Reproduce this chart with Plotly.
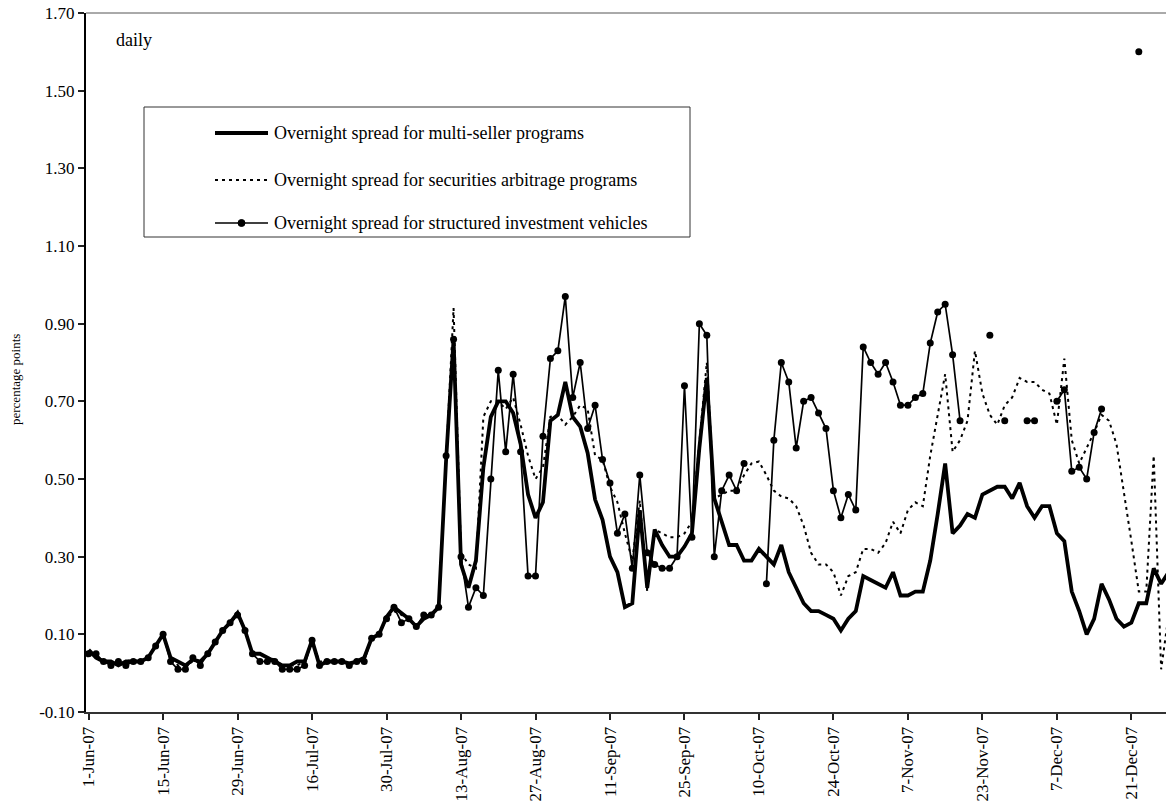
import pandas as pd
import plotly.graph_objects as go

# Business days, June-December 2007 (US market holidays removed)
HOLIDAYS = ["2007-07-04", "2007-09-03", "2007-10-08", "2007-11-12", "2007-11-22", "2007-12-25"]
days = [d for d in pd.bdate_range("2007-06-01", "2007-12-31") if d.strftime("%Y-%m-%d") not in HOLIDAYS]
dates = [f"{d.day}-{d.strftime('%b-%y')}" for d in days]

# Overnight spreads, percentage points
multi_seller = [
    0.06, 0.04, 0.03, 0.03, 0.02, 0.03, 0.03, 0.03, 0.04, 0.07, 0.10,
    0.04, 0.03, 0.02, 0.035, 0.03, 0.05, 0.08, 0.11, 0.13, 0.155,
    0.11, 0.05, 0.05, 0.04, 0.03, 0.02, 0.02, 0.03, 0.03, 0.085,
    0.02, 0.03, 0.03, 0.03, 0.025, 0.03, 0.04, 0.09, 0.10, 0.145,
    0.17, 0.155, 0.14, 0.12, 0.14, 0.15, 0.17, 0.55, 0.86, 0.28,
    0.22, 0.29, 0.53, 0.66, 0.70, 0.70, 0.67, 0.59, 0.46, 0.40,
    0.44, 0.65, 0.665, 0.75, 0.66, 0.635, 0.567, 0.447, 0.395, 0.30,
    0.26, 0.17, 0.18, 0.42, 0.22, 0.37, 0.33, 0.30, 0.30, 0.326,
    0.36, 0.58, 0.76, 0.45, 0.39, 0.33, 0.33, 0.29, 0.29, 0.32,
    0.30, 0.28, 0.33, 0.26, 0.22, 0.18, 0.16, 0.16, 0.15, 0.14,
    0.11, 0.14, 0.16, 0.25, 0.24, 0.23, 0.22, 0.26, 0.20, 0.20,
    0.21, 0.21, 0.29, 0.41, 0.54, 0.36, 0.38, 0.41, 0.40, 0.46,
    0.47, 0.48, 0.48, 0.45, 0.49, 0.43, 0.40, 0.43, 0.43, 0.36,
    0.34, 0.21, 0.16, 0.10, 0.14, 0.23, 0.19, 0.14, 0.12, 0.13,
    0.18, 0.18, 0.27, 0.23, 0.26,
]

sec_arbitrage = [
    0.05, 0.04, 0.03, 0.03, 0.02, 0.03, 0.035, 0.03, 0.04, 0.07, 0.10,
    0.04, 0.02, 0.02, 0.03, 0.03, 0.05, 0.08, 0.11, 0.13, 0.15,
    0.11, 0.05, 0.05, 0.04, 0.035, 0.02, 0.02, 0.02, 0.03, 0.08,
    0.03, 0.03, 0.03, 0.03, 0.02, 0.03, 0.04, 0.09, 0.10, 0.14,
    0.16, 0.15, 0.14, 0.12, 0.14, 0.15, 0.17, 0.55, 0.94, 0.31,
    0.28, 0.27, 0.66, 0.70, 0.70, 0.68, 0.71, 0.64, 0.56, 0.50,
    0.53, 0.66, 0.665, 0.64, 0.66, 0.69, 0.68, 0.56, 0.55, 0.48,
    0.44, 0.36, 0.29, 0.445, 0.21, 0.37, 0.36, 0.35, 0.35, 0.36,
    0.39, 0.60, 0.80, 0.45, 0.46, 0.47, 0.47, 0.51, 0.54, 0.545,
    0.51, 0.47, 0.455, 0.45, 0.43, 0.38, 0.31, 0.28, 0.28, 0.26,
    0.20, 0.25, 0.26, 0.32, 0.32, 0.31, 0.335, 0.39, 0.36, 0.42,
    0.44, 0.43, 0.56, 0.67, 0.77, 0.57, 0.60, 0.65, 0.83, 0.72,
    0.665, 0.64, 0.69, 0.71, 0.76, 0.75, 0.75, 0.73, 0.72, 0.64,
    0.81, 0.60, 0.54, 0.58, 0.62, 0.665, 0.65, 0.59, 0.47, 0.34,
    0.21, 0.21, 0.56, 0.01, 0.15,
]

N = None
siv = [
    0.05, 0.05, 0.03, 0.02, 0.03, 0.02, 0.03, 0.03, 0.04, 0.07, 0.10,
    0.03, 0.01, 0.01, 0.04, 0.02, 0.05, 0.08, 0.11, 0.13, 0.15,
    0.11, 0.05, 0.03, 0.03, 0.03, 0.01, 0.01, 0.01, 0.02, 0.085,
    0.02, 0.03, 0.03, 0.03, 0.02, 0.03, 0.03, 0.09, 0.10, 0.14,
    0.17, 0.13, 0.14, 0.12, 0.15, 0.15, 0.17, 0.56, 0.86, 0.30,
    0.17, 0.22, 0.20, 0.50, 0.78, 0.57, 0.77, 0.57, 0.25, 0.25,
    0.61, 0.81, 0.83, 0.97, 0.71, 0.80, 0.63, 0.69, 0.55, 0.49,
    0.36, 0.41, 0.27, 0.51, 0.31, 0.28, 0.27, 0.27, 0.30, 0.74,
    0.35, 0.90, 0.87, 0.30, 0.47, 0.51, 0.47, 0.54, N, N,
    0.23, 0.60, 0.80, 0.75, 0.58, 0.70, 0.71, 0.67, 0.63, 0.47,
    0.40, 0.46, 0.42, 0.84, 0.80, 0.77, 0.80, 0.75, 0.69, 0.69,
    0.71, 0.72, 0.85, 0.93, 0.95, 0.82, 0.65, N, N, N,
    0.87, N, 0.65, N, N, 0.65, 0.65, N, N, 0.70,
    0.73, 0.52, 0.53, 0.50, 0.62, 0.68, N, N, N, N,
    1.60, N, N, N, N,
]

y_ticks = [-0.10, 0.10, 0.30, 0.50, 0.70, 0.90, 1.10, 1.30, 1.50, 1.70]
y_tick_text = [f"{v:.2f}" for v in y_ticks]  # plain hyphen for the negative label
x_ticks = dates[::10]

SERIF = "Liberation Serif"
W, H = 1166, 808
L, R, T, B = 86, 0, 13, 96
PW, PH = W - L - R, H - T - B


def px_x(x):
    return (x - L) / PW


def px_y(y):
    return (H - B - y) / PH


fig = go.Figure()
fig.add_trace(go.Scatter(
    x=dates, y=sec_arbitrage, mode="lines",
    line=dict(color="black", width=2, dash="3px,4px"),
    name="Overnight spread for securities arbitrage programs",
))
fig.add_trace(go.Scatter(
    x=dates, y=multi_seller, mode="lines",
    line=dict(color="black", width=3.8),
    name="Overnight spread for multi-seller programs",
))
fig.add_trace(go.Scatter(
    x=dates, y=siv, mode="lines+markers", connectgaps=False,
    line=dict(color="black", width=1.7),
    marker=dict(color="black", size=7, symbol="circle"),
    name="Overnight spread for structured investment vehicles",
))

fig.update_layout(
    width=W, height=H,
    margin=dict(l=L, r=R, t=T, b=B),
    paper_bgcolor="white", plot_bgcolor="white",
    showlegend=False,
    font=dict(family=SERIF, color="black", size=17),
)

fig.update_xaxes(
    type="category", range=[-0.35, 144.65],
    tickmode="array", tickvals=x_ticks, ticktext=x_ticks,
    tickangle=-90, tickfont=dict(family=SERIF, size=17, color="black"),
    ticks="outside", ticklen=6, tickwidth=1.5, tickcolor="#222",
    showline=True, linecolor="#333", linewidth=2,
    showgrid=False, zeroline=False,
)
fig.update_yaxes(
    range=[-0.10, 1.70],
    tickmode="array", tickvals=y_ticks, ticktext=y_tick_text,
    tickfont=dict(family=SERIF, size=17, color="black"),
    ticks="outside", ticklen=6, tickwidth=1.5, tickcolor="#222",
    showline=True, linecolor="black", linewidth=2,
    showgrid=False, zeroline=False,
)

shapes = [
    # top border of the plot area
    dict(type="line", xref="paper", yref="paper", x0=0, x1=1, y0=1, y1=1,
         line=dict(color="#555", width=1)),
    # legend frame
    dict(type="rect", xref="paper", yref="paper",
         x0=px_x(144), x1=px_x(690), y0=px_y(237), y1=px_y(107),
         line=dict(color="#333", width=1), fillcolor="white", layer="above"),
]

legend_rows = [
    ("Overnight spread for multi-seller programs", 133, dict(color="black", width=3.8), False),
    ("Overnight spread for securities arbitrage programs", 180, dict(color="black", width=2, dash="3px,4px"), False),
    ("Overnight spread for structured investment vehicles", 223, dict(color="black", width=1.7), True),
]
annotations = []
for text, row_y, line_style, with_marker in legend_rows:
    shapes.append(dict(type="line", xref="paper", yref="paper", layer="above",
                       x0=px_x(215), x1=px_x(268), y0=px_y(row_y), y1=px_y(row_y),
                       line=line_style))
    if with_marker:
        shapes.append(dict(type="circle", xref="paper", yref="paper", layer="above",
                           xsizemode="pixel", ysizemode="pixel",
                           xanchor=px_x(241.5), yanchor=px_y(row_y),
                           x0=-3.5, x1=3.5, y0=-3.5, y1=3.5,
                           fillcolor="black", line=dict(color="black", width=1)))
    annotations.append(dict(xref="paper", yref="paper", x=px_x(272), y=px_y(row_y),
                            xanchor="left", yanchor="middle", showarrow=False,
                            text=text, font=dict(family=SERIF, size=18, color="black")))

annotations.append(dict(xref="paper", yref="paper", x=px_x(114), y=px_y(40),
                        xanchor="left", yanchor="middle", showarrow=False,
                        text="daily", font=dict(family=SERIF, size=18, color="black")))
annotations.append(dict(xref="paper", yref="paper", x=px_x(15), y=px_y(380),
                        xanchor="center", yanchor="middle", showarrow=False, textangle=-90,
                        text="percentage points", font=dict(family=SERIF, size=13, color="black")))

fig.update_layout(shapes=shapes, annotations=annotations)

fig.write_html("out.html")
